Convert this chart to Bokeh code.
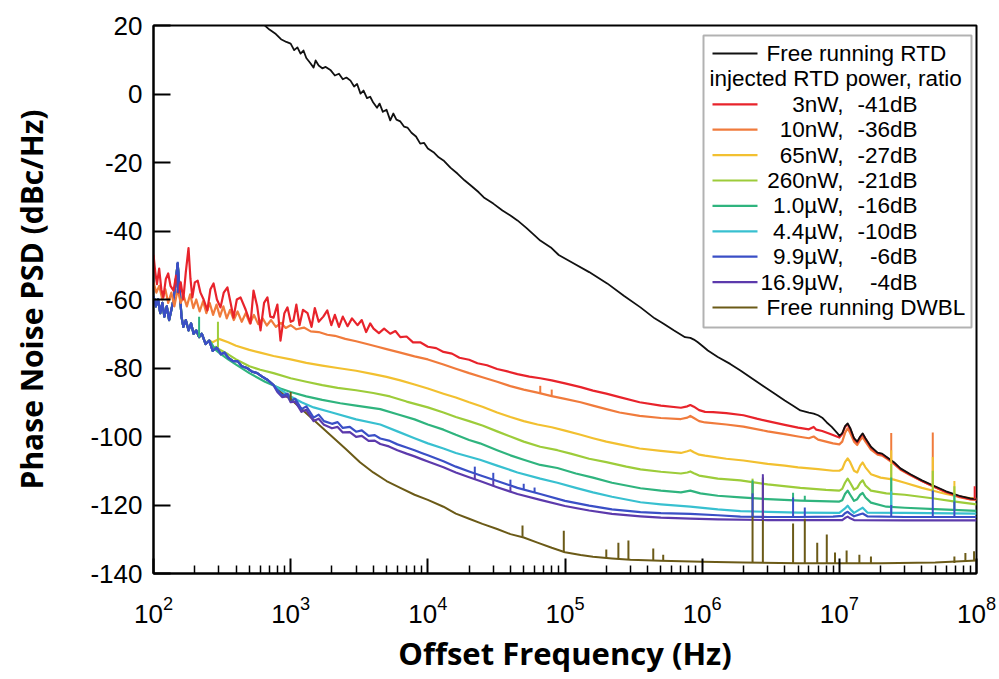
import math
from bokeh.plotting import figure
from bokeh.models import FixedTicker, Label, BoxAnnotation, Range1d
from bokeh.embed import file_html
from bokeh.resources import INLINE

# ---------------- data ----------------
x_ticks = [1e2, 1e3, 1e4, 1e5, 1e6, 1e7, 1e8]
y_ticks = [-140, -120, -100, -80, -60, -40, -20, 0, 20]
y_tick_labels = ["-140", "-120", "-100", "-80", "-60", "-40", "-20", "0", "20"]

# common low-frequency part shared by the strongly injected curves and the DWBL
bundle_lo = [(100, -59), (104, -62), (108, -60), (112, -64), (116, -61), (120, -65), (125, -62),
             (130, -66), (135, -63), (140, -60), (145, -55), (150, -49.5), (155, -57), (160, -65),
             (165, -68), (172, -66), (180, -69), (188, -67), (196, -70), (205, -69), (215, -71),
             (225, -70), (240, -73), (255, -72)]
bundle_mid = [(270, -75), (290, -74), (310, -76), (330, -75.5), (350, -77), (380, -78), (410, -78),
              (440, -79.5), (480, -80), (520, -81), (570, -81.5), (620, -82.5), (680, -83.5), (750, -85)]

rtd_free = [(500, 24), (560, 22), (623, 20.6), (700, 18.8), (780, 17.5), (850, 16), (930, 15.2),
            (1000, 14.7), (1060, 12.8), (1120, 13.6), (1180, 11.8), (1240, 12.7), (1300, 10.5),
            (1380, 9.2), (1470, 7.7), (1520, 9.8), (1600, 8.3), (1700, 7.5), (1800, 7.9), (1960, 6.9),
            (2100, 5.4), (2250, 5.9), (2400, 4.3), (2550, 4.8), (2730, 3.9), (2900, 2.2), (3050, 2.9),
            (3230, 0.1), (3400, 1.0), (3600, -1.2), (3800, -0.8), (4000, -2.5), (4260, -4.0),
            (4450, -2.8), (4700, -5.2), (5000, -4.6), (5320, -7.7), (5600, -5.7), (5900, -7.5),
            (6300, -8.0), (6700, -9.5), (7100, -9.8), (7600, -11.3), (8200, -12.4), (8800, -14.5),
            (9400, -14.3), (10000, -15.9), (11000, -17), (12000, -18.5), (13000, -19.4),
            (14600, -21.5), (16500, -23.3), (18500, -25.2), (21000, -27), (23500, -28.7),
            (25600, -30.2), (30000, -32), (35000, -34), (40000, -35.5), (45000, -36.9),
            (52000, -39), (60000, -41.3), (66000, -42.8), (78800, -44.8), (90000, -47),
            (116000, -49.5), (150000, -52), (203000, -55.3), (270000, -59), (355000, -62.3),
            (450000, -65.5), (520000, -67), (620000, -69), (750000, -71), (820000, -71.2),
            (870000, -71.7), (930000, -72.5), (1.0e6, -73.5), (1.1e6, -74.9), (1.3e6, -76.8),
            (1.6e6, -78.8), (1.9e6, -80.7), (2.4e6, -83.5), (2.8e6, -85.3), (3.3e6, -87.2),
            (4.0e6, -89.5), (4.6e6, -91), (5.2e6, -92.4), (6.0e6, -93), (6.5e6, -93.3),
            (7.0e6, -93.8), (7.5e6, -94.5), (8.1e6, -95.9), (8.8e6, -97.2), (9.7e6, -99.1),
            (1.0e7, -99.8), (1.05e7, -99), (1.1e7, -97), (1.15e7, -96.2), (1.2e7, -97.5),
            (1.28e7, -100.5), (1.35e7, -101.5), (1.42e7, -100), (1.48e7, -99.1), (1.55e7, -100.5),
            (1.7e7, -103), (1.9e7, -104.7), (2.05e7, -105), (2.24e7, -106.1), (2.5e7, -107.5),
            (2.79e7, -109.3), (3.3e7, -111), (4e7, -112.8), (4.84e7, -114.3), (6e7, -116),
            (7.5e7, -117.3), (9e7, -118.1), (1e8, -118.3)]

inj_3nW = [(100, -47), (103, -52), (106, -55.5), (110, -51), (114, -57), (118, -59.4), (123, -54),
           (128, -52.4), (133, -56), (140, -57.4), (146, -53), (152, -58), (158, -55), (165, -60),
           (172, -52), (180, -45), (186, -54), (192, -59.4), (200, -55), (210, -54.5), (220, -58),
           (232, -60), (247, -63.2), (260, -57), (274, -55.3), (290, -60), (308, -62.3), (325, -58),
           (346, -56.5), (365, -61), (383, -65.3), (405, -60), (431, -59.4), (470, -63), (510, -67),
           (536, -57.4), (570, -62), (603, -69), (640, -61), (677, -59.4), (710, -65), (750, -65.3),
           (800, -61.5), (843, -72), (900, -64), (948, -62.3), (1000, -66.5), (1048, -66.1),
           (1100, -61.5), (1160, -67.5), (1230, -63), (1328, -64), (1420, -68), (1500, -62.5),
           (1600, -66.5), (1730, -65), (1850, -63.2), (1980, -67.5), (2100, -64.5), (2250, -68),
           (2400, -65), (2600, -67.8), (2800, -65.5), (3070, -67.5), (3300, -66), (3550, -69.5),
           (3800, -67), (4020, -68.5), (4400, -69.8), (4800, -68.5), (5320, -70), (5800, -69.2),
           (6300, -71), (7000, -70.8), (7800, -72.5), (8800, -72.5), (10000, -73.8), (11500, -74.2),
           (13000, -75.3), (15000, -75.8), (17000, -77), (20000, -77.6), (23000, -78.6),
           (27000, -79.2), (32000, -80.3), (38000, -81), (45000, -81.8), (55000, -82.5),
           (66000, -83), (80000, -83.6), (100000, -84.5), (130000, -85.6), (160000, -86.6),
           (200000, -87.5), (250000, -88.5), (350000, -90), (500000, -91), (700000, -91.6),
           (780000, -91.2), (820000, -90.8), (870000, -91.3), (950000, -92.3), (1.05e6, -92.8),
           (1.2e6, -92.9), (1.5e6, -93.2), (2e6, -93.8), (2.5e6, -94.8), (3e6, -95.5), (4e6, -96.6),
           (5e6, -97.4), (6e6, -97.9), (6.5e6, -97.2), (6.8e6, -98), (7.5e6, -98.4), (8.5e6, -99.2),
           (1e7, -100.3), (1.05e7, -99.3), (1.1e7, -97.2), (1.15e7, -96.4), (1.2e7, -97.8),
           (1.28e7, -100.7), (1.35e7, -101.7), (1.42e7, -100.2), (1.48e7, -99.3), (1.55e7, -100.7),
           (1.7e7, -103.2), (1.9e7, -104.9), (2.05e7, -105.2), (2.24e7, -106.3), (2.5e7, -107.7),
           (2.79e7, -109.5), (3.3e7, -111.2), (4e7, -113), (4.84e7, -114.5), (6e7, -116.2),
           (7.5e7, -117.5), (9e7, -118.3), (1e8, -118.4)]

inj_10nW = [(100, -55), (105, -58), (110, -56), (116, -60), (122, -57), (128, -61), (135, -58),
            (142, -62), (150, -57), (158, -61), (166, -59), (175, -62), (185, -58.5), (195, -62.5),
            (205, -60), (217, -63.5), (230, -60.5), (243, -64), (257, -61), (272, -64.5),
            (288, -61.5), (305, -65), (323, -62), (342, -65.5), (362, -63), (385, -66), (410, -63.5),
            (440, -66.5), (470, -64), (505, -67), (540, -64.5), (580, -67.2), (625, -65.5),
            (670, -67.6), (720, -66), (780, -68), (850, -66.8), (920, -68.3), (1000, -67.5),
            (1100, -68.7), (1250, -68.2), (1400, -69.3), (1600, -69.5), (1850, -70.3), (2100, -70.6),
            (2500, -71.5), (3000, -72.2), (3600, -73), (4300, -73.8), (5000, -74.5), (6300, -75.5),
            (8000, -76.6), (10000, -77.5), (13000, -79), (16000, -80.2), (20000, -81.5),
            (25000, -82.7), (32000, -84), (40000, -85.3), (50000, -86.3), (63000, -87.2),
            (80000, -88.2), (100000, -89), (130000, -90), (160000, -91), (200000, -92),
            (250000, -93), (350000, -94), (500000, -94.6), (700000, -94.9), (780000, -94.5),
            (820000, -94), (870000, -94.6), (950000, -95.5), (1.05e6, -95.9), (1.5e6, -96.5),
            (2e6, -97.1), (3e6, -98.5), (4e6, -99.3), (5e6, -100), (6e6, -100.5), (6.5e6, -100),
            (7e6, -100.9), (8e6, -101.5), (9e6, -102), (1e7, -102.3), (1.05e7, -101.5),
            (1.1e7, -99), (1.15e7, -97.6), (1.2e7, -99), (1.28e7, -101.5), (1.35e7, -102.5),
            (1.42e7, -101), (1.48e7, -100.2), (1.55e7, -101.5), (1.7e7, -103.8), (1.9e7, -105.3),
            (2.05e7, -105.6), (2.24e7, -106.6), (2.5e7, -108), (2.79e7, -109.7), (3.3e7, -111.3),
            (4e7, -113), (4.84e7, -114.6), (6e7, -116.3), (7.5e7, -117.7), (9e7, -118.4),
            (1e8, -118.5)]

inj_65nW = bundle_lo + [
    (270, -72.5), (300, -71.5), (350, -72.5), (400, -73.5), (500, -74.7), (600, -75.5),
    (750, -76.5), (1000, -77.5), (1300, -78.5), (1700, -79.3), (2200, -80), (3000, -80.8),
    (4000, -81.8), (5000, -82.6), (6300, -83.6), (8000, -84.8), (10000, -86), (13000, -87.5),
    (16000, -88.6), (20000, -90), (25000, -91.3), (32000, -93), (40000, -94.3), (50000, -95.5),
    (63000, -96.5), (80000, -97.3), (100000, -98.3), (130000, -99.5), (160000, -100.5),
    (200000, -101.5), (250000, -102.3), (350000, -103.5), (500000, -104.2), (700000, -104.8),
    (780000, -104.3), (820000, -104), (870000, -104.6), (950000, -105.3), (1.05e6, -105.6),
    (1.5e6, -106.5), (2e6, -107), (3e6, -108), (4e6, -108.5), (5e6, -109), (7e6, -109.5),
    (9e6, -110), (1e7, -110), (1.05e7, -109.5), (1.1e7, -107.5), (1.15e7, -106.4),
    (1.2e7, -107.5), (1.28e7, -110), (1.35e7, -110.5), (1.42e7, -108.5), (1.48e7, -107.6),
    (1.55e7, -109), (1.7e7, -111), (2e7, -112), (2.5e7, -112.6), (3e7, -113.5), (4e7, -115),
    (5e7, -116), (6e7, -116.8), (8e7, -117.8), (1e8, -118.2)]

inj_260nW = bundle_lo + [
    (270, -74.2), (285, -73.8), (300, -74.5), (350, -76), (400, -77.5), (500, -79.5), (600, -80.5),
    (750, -81.5), (1000, -83), (1300, -84), (1700, -85), (2200, -85.8), (3000, -86.5),
    (4000, -87.3), (5300, -88.3), (7000, -89.8), (10000, -91.5), (13000, -93), (16000, -94.3),
    (20000, -95.5), (25000, -96.8), (32000, -98.5), (40000, -100), (50000, -101.5),
    (66000, -103), (88000, -104), (110000, -105), (150000, -106.5), (200000, -107.5),
    (280000, -108.8), (355000, -109.6), (500000, -110.3), (700000, -110.8), (780000, -110.5),
    (820000, -110.2), (870000, -110.7), (950000, -111.4), (1.3e6, -112.3), (1.9e6, -112.8),
    (3e6, -114), (5.2e6, -115), (8e6, -115.6), (1e7, -115.8), (1.05e7, -115.3), (1.1e7, -113.5),
    (1.15e7, -112.3), (1.2e7, -113.5), (1.28e7, -115.5), (1.35e7, -115), (1.42e7, -113.5),
    (1.48e7, -112.8), (1.55e7, -114.3), (1.7e7, -115.8), (2.2e7, -116.6), (3e7, -117),
    (4.9e7, -118.1), (7e7, -119), (1e8, -119.8)]

inj_1uW = bundle_lo + [
    (262, -72.5), (280, -74.5), (300, -75.5), (350, -77.5), (400, -79), (500, -81.5), (650, -84),
    (843, -86), (1000, -87), (1300, -88.3), (1700, -89.3), (2300, -90.3), (3000, -91),
    (4500, -92), (6000, -93.5), (8000, -95), (10000, -96.5), (13000, -98), (16000, -99.5),
    (20000, -101), (24000, -102), (32000, -104), (40000, -105.5), (50000, -106.8),
    (66000, -108.3), (88000, -109.2), (120000, -110.8), (160000, -112), (220000, -113.5),
    (355000, -115.1), (500000, -115.8), (700000, -116.3), (820000, -115.8), (970000, -116.6),
    (1.3e6, -117.3), (1.9e6, -117.8), (3e6, -118.3), (5.2e6, -118.7), (1e7, -119),
    (1.05e7, -118.6), (1.1e7, -116.8), (1.15e7, -115.8), (1.2e7, -117), (1.28e7, -118.8),
    (1.35e7, -118.3), (1.42e7, -117), (1.48e7, -116.5), (1.55e7, -117.8), (1.7e7, -119.3),
    (2.2e7, -120.5), (3e7, -120.8), (5e7, -121.2), (1e8, -121.7)]

inj_4uW = bundle_lo + bundle_mid + [
    (820, -86), (1000, -88.3), (1200, -90), (1470, -91.5), (2000, -93), (3000, -95),
    (4500, -96.5), (6000, -98.5), (8000, -100.5), (10000, -102), (13000, -103.5),
    (16000, -104.8), (24000, -106.8), (32000, -108.5), (45000, -110.5), (66000, -112.3),
    (88000, -113.5), (120000, -115), (160000, -116.3), (220000, -117.6), (355000, -119.2),
    (500000, -119.8), (820000, -120.5), (1.3e6, -121.3), (1.9e6, -121.8), (3e6, -122),
    (5e6, -122.2), (1e7, -122.3), (1.1e7, -121), (1.15e7, -120.2), (1.2e7, -121.2),
    (1.28e7, -122.3), (1.42e7, -121.2), (1.48e7, -120.8), (1.6e7, -122.2), (3e7, -122.3),
    (1e8, -122.5)]

inj_10uW = bundle_lo + bundle_mid + [
    (800, -86.5), (870, -88), (950, -87.5), (1000, -89.5), (1080, -89), (1200, -92),
    (1300, -91.2), (1470, -94.5), (1600, -93.6), (1750, -95.5), (2000, -96.3), (2200, -95.8),
    (2400, -97.5), (2700, -97.2), (3000, -98.6), (3300, -98.2), (3700, -99.8), (4100, -99.6),
    (4500, -100.6), (5200, -101.2), (6000, -102.3), (7000, -103.2), (8000, -104),
    (9000, -104.8), (10000, -105.5), (13000, -107.2), (16000, -108.8), (20000, -110.2),
    (24000, -111.3), (32000, -113), (45000, -115), (66000, -116.8), (100000, -118.8),
    (150000, -120.2), (220000, -121.3), (355000, -122.1), (500000, -122.4), (820000, -122.6),
    (1.3e6, -123), (1.9e6, -123.4), (3e6, -123.5), (5e6, -123.5), (9e6, -123.4),
    (1.05e7, -123.2), (1.1e7, -122.4), (1.15e7, -122), (1.2e7, -122.6), (1.28e7, -123.3),
    (1.42e7, -122.7), (1.48e7, -122.5), (1.6e7, -123.3), (3e7, -123.5), (1e8, -123.5)]

inj_17uW = bundle_lo + bundle_mid + [
    (800, -87), (870, -88.5), (950, -88.2), (1000, -90), (1080, -89.8), (1200, -92.8),
    (1300, -92.2), (1470, -95.5), (1600, -94.8), (1750, -96.6), (2000, -97.6), (2200, -97.2),
    (2400, -98.8), (2700, -98.7), (3000, -100.1), (3300, -99.8), (3700, -101.3), (4100, -101.2),
    (4500, -102.2), (5200, -102.9), (6000, -104), (7000, -105), (8000, -105.8), (9000, -106.6),
    (10000, -107.3), (13000, -109), (16000, -110.5), (20000, -111.9), (24000, -113),
    (32000, -114.8), (45000, -116.8), (66000, -118.5), (100000, -120.3), (150000, -121.6),
    (220000, -122.6), (355000, -123.3), (500000, -123.7), (820000, -124), (1.3e6, -124.2),
    (3e6, -124.4), (1.05e7, -124.4), (1.1e7, -123.8), (1.15e7, -123.4), (1.2e7, -123.9),
    (1.28e7, -124.4), (3e7, -124.5), (1e8, -124.5)]

dwbl_free = bundle_lo + bundle_mid + [
    (820, -86.5), (900, -88), (1000, -89), (1060, -90), (1200, -92), (1500, -95.5), (2000, -100),
    (2500, -103.5), (3200, -107.5), (4000, -110.5), (5000, -113), (6300, -115), (8000, -117),
    (10000, -118.5), (13000, -120.5), (16000, -122.5), (20000, -124), (25000, -125.5),
    (32000, -127), (40000, -128.5), (50000, -129.5), (63000, -131), (80000, -132.5),
    (100000, -133.8), (130000, -134.6), (160000, -135.1), (220000, -135.6), (300000, -136),
    (500000, -136.3), (1e6, -136.6), (2e6, -136.8), (5e6, -137), (1e7, -137), (2e7, -137),
    (5e7, -136.8), (1e8, -136.2)]

# narrow spurs: (frequency, curve level, spur top)
spur_3nW = [(9.7e7, -118.3, -114.5)]
spur_10nW = [(66000, -87.3, -85.2), (80000, -88.2, -86.3), (2.39e7, -106.9, -99), (4.8e7, -114.6, -98.8)]
spur_65nW = [(2.39e7, -112.5, -104), (4.8e7, -116, -106), (6.9e7, -117.3, -113)]
spur_260nW = [(295, -73.9, -66.5), (2.33e6, -113.3, -112.3), (2.39e7, -116.7, -108),
              (4.8e7, -118, -110), (6.9e7, -119, -114.5)]
spur_1uW = [(215, -71, -65), (2.33e6, -117.9, -112.8), (4.6e6, -118.6, -116.4),
            (5.6e6, -118.7, -117.3), (2.39e7, -120.6, -112), (6.9e7, -121.4, -117)]
spur_4uW = [(2.39e7, -122.3, -116)]
spur_10uW = [(150, -58, -49), (22000, -110.8, -108.8), (30000, -112.6, -110.6),
             (40000, -114.4, -112.6), (50000, -115.5, -113.8), (60000, -116.4, -114.9),
             (2.33e6, -123.4, -116.6), (4.6e6, -123.5, -117.8), (5.6e6, -123.5, -120.7),
             (2.39e7, -123.5, -120), (4.8e7, -123.5, -115.8), (6.9e7, -123.5, -119)]
spur_17uW = [(22000, -112.7, -111), (30000, -114.5, -112.8), (40000, -116.3, -114.6),
             (2.77e6, -124.4, -111)]
spur_dwbl = [(1000, -89.5, -87), (49000, -129.3, -126), (98000, -133.8, -127.5),
             (200000, -135.5, -133), (245000, -135.6, -131), (290000, -135.8, -130.4),
             (440000, -136.2, -132.7), (520000, -136.3, -134.5), (2.33e6, -136.8, -113.5),
             (2.77e6, -136.8, -112), (4.6e6, -136.9, -125.4), (5.6e6, -137, -124),
             (6.9e6, -137, -131), (8.1e6, -137, -128.6), (9.3e6, -137, -133.9),
             (1.13e7, -137, -133.3), (1.4e7, -137, -134.5), (1.7e7, -137, -135),
             (6.9e7, -136.9, -135), (8.3e7, -136.6, -134), (9.6e7, -136.3, -133.5)]

legend_power = ["3nW,", "10nW,", "65nW,", "260nW,", "1.0\u00b5W,", "4.4\u00b5W,", "9.9\u00b5W,", "16.9\u00b5W,"]
legend_ratio = ["-41dB", "-36dB", "-27dB", "-21dB", "-16dB", "-10dB", "-6dB", "-4dB"]

# ---------------- styling / layout ----------------
C_RTD = "#111111"
C_DWBL = "#6b5a17"
inj_colors = ["#e8232b", "#f07b3c", "#f2c030", "#9dcc3a", "#2fb47e", "#38c0d0", "#3a4fc6", "#5c3aac"]
inj_series = [inj_3nW, inj_10nW, inj_65nW, inj_260nW, inj_1uW, inj_4uW, inj_10uW, inj_17uW]
inj_spurs = [spur_3nW, spur_10nW, spur_65nW, spur_260nW, spur_1uW, spur_4uW, spur_10uW, spur_17uW]
draw_order = [2, 3, 4, 5, 7, 6, 1, 0]   # indices into inj_series, first drawn first

FIG_W, FIG_H = 999, 679
FRAME_L, FRAME_T, FRAME_W, FRAME_H = 153, 25, 823, 548   # picture pixels
X_LO, X_HI, Y_LO, Y_HI = 1e2, 1e8, -140, 20
TICK_FONT = "Liberation Sans"
TITLE_FONT = "Open Sans"


def px2x(px):
    lo, hi = math.log10(X_LO), math.log10(X_HI)
    return 10 ** (lo + (px - FRAME_L) / FRAME_W * (hi - lo))


def py2y(py):
    return Y_HI - (py - FRAME_T) / FRAME_H * (Y_HI - Y_LO)


p = figure(width=FIG_W, height=FIG_H, x_axis_type="log",
           x_range=Range1d(X_LO, X_HI), y_range=Range1d(Y_LO, Y_HI),
           output_backend="svg", toolbar_location=None,
           min_border_left=FRAME_L, min_border_top=FRAME_T,
           min_border_right=FIG_W - FRAME_L - FRAME_W,
           min_border_bottom=FIG_H - FRAME_T - FRAME_H)
p.xgrid.visible = False
p.ygrid.visible = False
p.outline_line_color = "black"
p.outline_line_width = 2
p.background_fill_color = "white"
p.border_fill_color = "white"

xa = p.xaxis[0]
xa.ticker = FixedTicker(ticks=x_ticks, minor_ticks=[k * 10 ** e for e in range(2, 8) for k in range(2, 10)])
xa.major_tick_in = 15
xa.major_tick_out = 0
xa.minor_tick_in = 8
xa.minor_tick_out = 0
xa.axis_line_width = 2
xa.major_tick_line_width = 2
xa.minor_tick_line_width = 1.5
xa.major_label_text_font = TICK_FONT
xa.major_label_text_font_size = "26px"
xa.major_label_text_color = "black"
xa.major_label_standoff = 22
xa.axis_label = "Offset Frequency (Hz)"
xa.axis_label_text_font = TITLE_FONT
xa.axis_label_text_font_size = "31px"
xa.axis_label_text_font_style = "bold"
xa.axis_label_text_color = "black"
xa.axis_label_standoff = 6

ya = p.yaxis[0]
ya.ticker = FixedTicker(ticks=y_ticks, minor_ticks=[])
ya.major_label_overrides = {t: s for t, s in zip(y_ticks, y_tick_labels)}
ya.major_tick_in = 17
ya.major_tick_out = 0
ya.minor_tick_in = 0
ya.minor_tick_out = 0
ya.axis_line_width = 2
ya.major_tick_line_width = 2
ya.major_label_text_font = TICK_FONT
ya.major_label_text_font_size = "26px"
ya.major_label_text_color = "black"
ya.major_label_standoff = 11
ya.axis_label = "Phase Noise PSD (dBc/Hz)"
ya.axis_label_text_font = TITLE_FONT
ya.axis_label_text_font_size = "30px"
ya.axis_label_text_font_style = "bold"
ya.axis_label_text_color = "black"
ya.axis_label_standoff = 35

# curves
p.line([f for f, _ in dwbl_free], [d for _, d in dwbl_free], line_color=C_DWBL, line_width=2, line_join="round")
for i in draw_order:
    series = inj_series[i]
    p.line([f for f, _ in series], [d for _, d in series], line_color=inj_colors[i],
           line_width=2.2, line_join="round")
p.line([f for f, _ in rtd_free], [d for _, d in rtd_free], line_color=C_RTD, line_width=1.8, line_join="round")

# spurs (DWBL first, then from the weakest to the strongest injection)
p.segment([s[0] for s in spur_dwbl], [s[1] for s in spur_dwbl], [s[0] for s in spur_dwbl],
          [s[2] for s in spur_dwbl], line_color=C_DWBL, line_width=2)
for spurs, col in zip(inj_spurs, inj_colors):
    p.segment([s[0] for s in spurs], [s[1] for s in spurs], [s[0] for s in spurs],
              [s[2] for s in spurs], line_color=col, line_width=2)

# legend (drawn by hand to keep the two right-aligned columns)
box = BoxAnnotation(left=px2x(703), right=px2x(971), top=py2y(35), bottom=py2y(327),
                    fill_color="white", fill_alpha=1.0, line_color="black", line_width=2,
                    level="underlay")
p.add_layout(box)
row_y = [53 + 25.4 * i for i in range(11)]
sample_colors = [C_RTD] + inj_colors + [C_DWBL]
sample_rows = [row_y[0]] + row_y[2:10] + [row_y[10]]
p.segment([px2x(712)] * len(sample_rows), [py2y(r) for r in sample_rows],
          [px2x(757)] * len(sample_rows), [py2y(r) for r in sample_rows],
          line_color=sample_colors, line_width=2.2)

LEG_FS = "22.5px"


def add_text(x, y, text, align):
    p.add_layout(Label(x=x, y=y, text=text, text_font=TICK_FONT, text_font_size=LEG_FS,
                       text_color="black", text_align=align, text_baseline="middle"))


add_text(px2x(766), py2y(row_y[0]), "Free running RTD", "left")
add_text(px2x(709), py2y(row_y[1]), "injected RTD power, ratio", "left")
for i, (pw, rt) in enumerate(zip(legend_power, legend_ratio)):
    add_text(px2x(843), py2y(row_y[2 + i]), pw, "right")
    add_text(px2x(917), py2y(row_y[2 + i]), rt, "right")
add_text(px2x(766), py2y(row_y[10]), "Free running DWBL", "left")

with open("out.html", "w") as fh:
    fh.write(file_html(p, INLINE))
